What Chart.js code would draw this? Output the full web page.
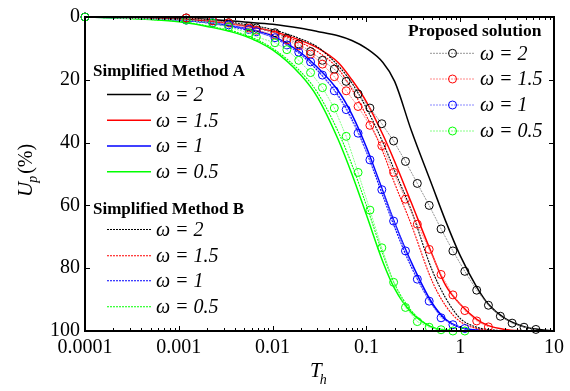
<!DOCTYPE html>
<html><head><meta charset="utf-8">
<script src="https://cdn.jsdelivr.net/npm/chart.js@4.4.1/dist/chart.umd.min.js"></script>
<style>html,body{margin:0;padding:0;background:#fff;overflow:hidden}canvas{display:block}</style>
</head><body>
<canvas id="c" width="570" height="391"></canvas>
<script>
// ---------- data ----------
const T_LINE = [0.0001,0.0002,0.0005,0.001,0.002,0.005,0.01,0.02,0.03,0.05,0.07,0.1,0.15,0.2,0.3,0.5,0.7,1,1.5,2,3,5,7,10];
// Simplified Method A (solid lines)
const A_W2  = [0,0.05,0.15,0.3,0.7,1.6,2.3,3.6,4.6,6,7.5,10,14.5,20.5,36,53.5,65,76,86,91.5,96,98.8,99.5,100];
const A_W15 = [0,0.1,0.3,0.6,1.2,2.8,4.5,7.5,9.8,14.5,20,27,37.5,46,59,75.5,85.5,91.5,96.3,98.3,99.5,100];
const A_W1  = [0,0.15,0.4,0.9,1.7,3.6,6,11.4,16,23.5,31,41.5,55.5,65.5,78,91,96.3,98.8,99.7,100];
const A_W05 = [0,0.3,0.8,1.5,3,6,10.5,18.5,25.5,39,50,63,78,86.5,94,98.8,99.7,100];
// Simplified Method B (dotted lines)
const B_W2  = [0,0.1,0.25,0.5,1,2.3,4,7,9.5,15.5,21,29,40,49,61.5,80.5,89.5,96,98.8,99.5,100];
const B_W15 = [0,0.1,0.3,0.6,1.2,2.8,4.8,8.2,11,16.5,23,31.5,43,53,66,84,92,97,99.2,99.7,100];
const B_W1  = [0,0.15,0.45,1,1.9,4,6.5,12,17,25,32.5,43,57,67,79.5,91.5,96.5,98.9,99.7,100];
const B_W05 = [0,0.3,0.8,1.4,2.8,5.6,10,17.5,24,36.5,47,60,75.5,85,93.5,98.7,99.6,100];
// Proposed solution (markers)
const T_MARK = [0.0001,0.0012,0.0023,0.0034,0.0056,0.0067,0.0106,0.0142,0.019,0.0254,0.034,0.0455,0.0609,0.0815,0.109,0.146,0.195,0.261,0.349,0.467,0.625,0.836,1.12,1.5,2.0,2.68,3.58,4.79,6.41];
const P_W2  = [0,0.3,1.2,1.8,3,3.5,5,6.8,8.6,11,13.8,16.6,20.5,24.5,29,34,39.5,46,53,60,67.5,74.5,81,87,91.8,95.3,97.5,98.8,99.5];
const P_W15 = [0,0.3,1.2,1.9,3.5,4.2,5.7,7.3,9.2,11.8,15,19,23.5,28.5,34.5,41,49.5,58,66,74,82,88.5,93.5,96.8,98.7];
const P_W1  = [0,1,1.8,2.5,4,4.7,6.6,8.9,11.2,14.3,18.5,23.5,29.5,37,45.5,55,65,74.5,83.5,90.5,95.8,98,99.2];
const P_W05 = [0,1,1.9,3.2,5.1,6.3,8.2,10.4,13.8,17.7,22.5,29,38,49.5,61.5,73.5,84.5,92.5,97,98.8,99.6,100,100];

const OMEGA_LABELS = ['\u03C9 = 2','\u03C9 = 1.5','\u03C9 = 1','\u03C9 = 0.5'];
const X_TICK_LABELS = ['0.0001','0.001','0.01','0.1','1','10'];
const Y_TICKS = [0,20,40,60,80,100];
const LEGEND_TITLES = ['Simplified Method A','Simplified Method B','Proposed solution'];

// ---------- styles ----------
const COLORS = ['#000000','#ff0000','#0000ff','#00ff00'];
const P_LINE = ['#8a8a8a','#ff7a7a','#7a7aff','#7aff7a'];
const FONT = '"Liberation Serif", "Times New Roman", serif';

function pts(xs, ys){ return ys.map((y,i)=>({x:xs[i], y:y})); }

const aSets = [A_W2,A_W15,A_W1,A_W05].map((d,i)=>({
  label:'A '+OMEGA_LABELS[i], data:pts(T_LINE,d), showLine:true,
  borderColor:COLORS[i], borderWidth:1.5, pointRadius:0,
  cubicInterpolationMode:'monotone', clip:3, order:20+i
}));
const bSets = [B_W2,B_W15,B_W1,B_W05].map((d,i)=>({
  label:'B '+OMEGA_LABELS[i], data:pts(T_LINE,d), showLine:true,
  borderColor:COLORS[i], borderWidth:1.1, borderDash:[2,1], pointRadius:0,
  cubicInterpolationMode:'monotone', clip:3, order:10+i
}));
const pSets = [P_W2,P_W15,P_W1,P_W05].map((d,i)=>({
  label:'P '+OMEGA_LABELS[i], data:pts(T_MARK,d), showLine:true,
  borderColor:P_LINE[i], borderWidth:0.9, borderDash:[2,1],
  pointRadius:4, pointHoverRadius:4, pointStyle:'circle',
  pointBorderColor:COLORS[i], pointBackgroundColor:'rgba(0,0,0,0)', pointBorderWidth:1,
  tension:0, clip:false, order:3-i
}));

const decorPlugin = {
  id:'decor',
  afterDatasetsDraw(chart){
    const ctx = chart.ctx, a = chart.chartArea, xs = chart.scales.x, ys = chart.scales.y;
    ctx.save();
    ctx.strokeStyle = '#000';
    ctx.lineWidth = 1;
    Y_TICKS.forEach(v=>{
      const y = Math.round(ys.getPixelForValue(v))+0.5;
      ctx.beginPath(); ctx.moveTo(a.left, y); ctx.lineTo(a.left+5, y);
      ctx.moveTo(a.right, y); ctx.lineTo(a.right-5, y); ctx.stroke();
    });
    for (let e=-4; e<=1; e++){
      for (let k=1; k<=9; k++){
        const v = k*Math.pow(10,e);
        if (v > 10.0001) continue;
        const x = Math.round(xs.getPixelForValue(v))+0.5;
        const len = k===1 ? 5 : 3;
        ctx.beginPath(); ctx.moveTo(x, a.bottom); ctx.lineTo(x, a.bottom-len);
        ctx.moveTo(x, a.top); ctx.lineTo(x, a.top+len); ctx.stroke();
      }
    }
    ctx.lineWidth = 2;
    ctx.strokeRect(a.left, a.top, a.right-a.left, a.bottom-a.top);
    ctx.restore();
  },
  afterDraw(chart){
    const ctx = chart.ctx;
    const ds = chart.data.datasets;
    ctx.save();
    ctx.fillStyle = '#000';
    ctx.textBaseline = 'middle';
    function sample(x1,x2,y,d,marker){
      ctx.save();
      ctx.strokeStyle = d.borderColor; ctx.lineWidth = d.borderWidth;
      ctx.setLineDash(d.borderDash||[]);
      ctx.beginPath(); ctx.moveTo(x1,y); ctx.lineTo(x2,y); ctx.stroke();
      if (marker){
        ctx.setLineDash([]); ctx.lineWidth = 1; ctx.strokeStyle = d.pointBorderColor;
        ctx.beginPath(); ctx.arc((x1+x2)/2, y, 4, 0, Math.PI*2); ctx.stroke();
      }
      ctx.restore();
    }
    ctx.font = 'bold 17px '+FONT; ctx.textAlign='left';
    ctx.fillText(LEGEND_TITLES[0], 93, 72);
    const yA = [94.5,120.3,146,171.8];
    yA.forEach((y,i)=>{ sample(107,151,y,ds[i],false);
      ctx.font='italic 20px '+FONT; ctx.fillText(OMEGA_LABELS[i],156,y+1); });
    ctx.font = 'bold 17px '+FONT;
    ctx.fillText(LEGEND_TITLES[1], 93, 209.5);
    const yB = [229.5,255.7,280.7,306.7];
    yB.forEach((y,i)=>{ sample(107,151,y,ds[4+i],false);
      ctx.font='italic 20px '+FONT; ctx.fillText(OMEGA_LABELS[i],156,y+1); });
    ctx.font = 'bold 17.5px '+FONT;
    ctx.fillText(LEGEND_TITLES[2], 408, 31);
    const yC = [53.3,79,105,131];
    yC.forEach((y,i)=>{ sample(430,475,y,ds[8+i],true);
      ctx.font='italic 20px '+FONT; ctx.fillText(OMEGA_LABELS[i],480,y+1); });

    ctx.textBaseline = 'alphabetic';
    ctx.font = 'italic 21px '+FONT;
    ctx.fillText('T', 310, 377);
    const wT = ctx.measureText('T').width;
    ctx.font = 'italic 14px '+FONT;
    ctx.fillText('h', 310+wT-2, 384);
    ctx.save();
    ctx.translate(32, 197); ctx.rotate(-Math.PI/2);
    ctx.font = 'italic 21px '+FONT;
    ctx.fillText('U', 0, 0);
    let w = ctx.measureText('U').width;
    ctx.font = 'italic 14px '+FONT;
    ctx.fillText('p', w-1, 5);
    w += ctx.measureText('p').width + 1;
    ctx.font = '20px '+FONT;
    ctx.fillText('(%)', w, 0);
    ctx.restore();
    ctx.restore();
  }
};

new Chart(document.getElementById('c'), {
  type:'scatter',
  data:{ datasets:[...aSets, ...bSets, ...pSets] },
  options:{
    responsive:false, animation:false, devicePixelRatio:1,
    layout:{ padding:{ top:15, right:16, left:0, bottom:0 } },
    plugins:{ legend:{display:false}, tooltip:{enabled:false} },
    scales:{
      x:{
        type:'logarithmic', min:0.0001, max:10,
        grid:{display:false, drawTicks:false}, border:{display:false},
        afterFit(s){ s.height = 60; },
        ticks:{
          autoSkip:false, maxRotation:0, padding:5, color:'#000',
          font:{family:FONT, size:20},
          callback(v){
            const l = Math.log10(v), r = Math.round(l);
            if (Math.abs(l-r) < 1e-6 && r>=-4 && r<=1) return X_TICK_LABELS[r+4];
            return '';
          }
        }
      },
      y:{
        type:'linear', min:0, max:100, reverse:true,
        grid:{display:false, drawTicks:false}, border:{display:false},
        afterFit(s){ s.width = 85; },
        ticks:{ stepSize:20, padding:5, color:'#000', font:{family:FONT, size:20},
          callback(v){ return Y_TICKS.includes(v) ? String(v) : ''; } }
      }
    }
  },
  plugins:[decorPlugin]
});
</script>
</body></html>
